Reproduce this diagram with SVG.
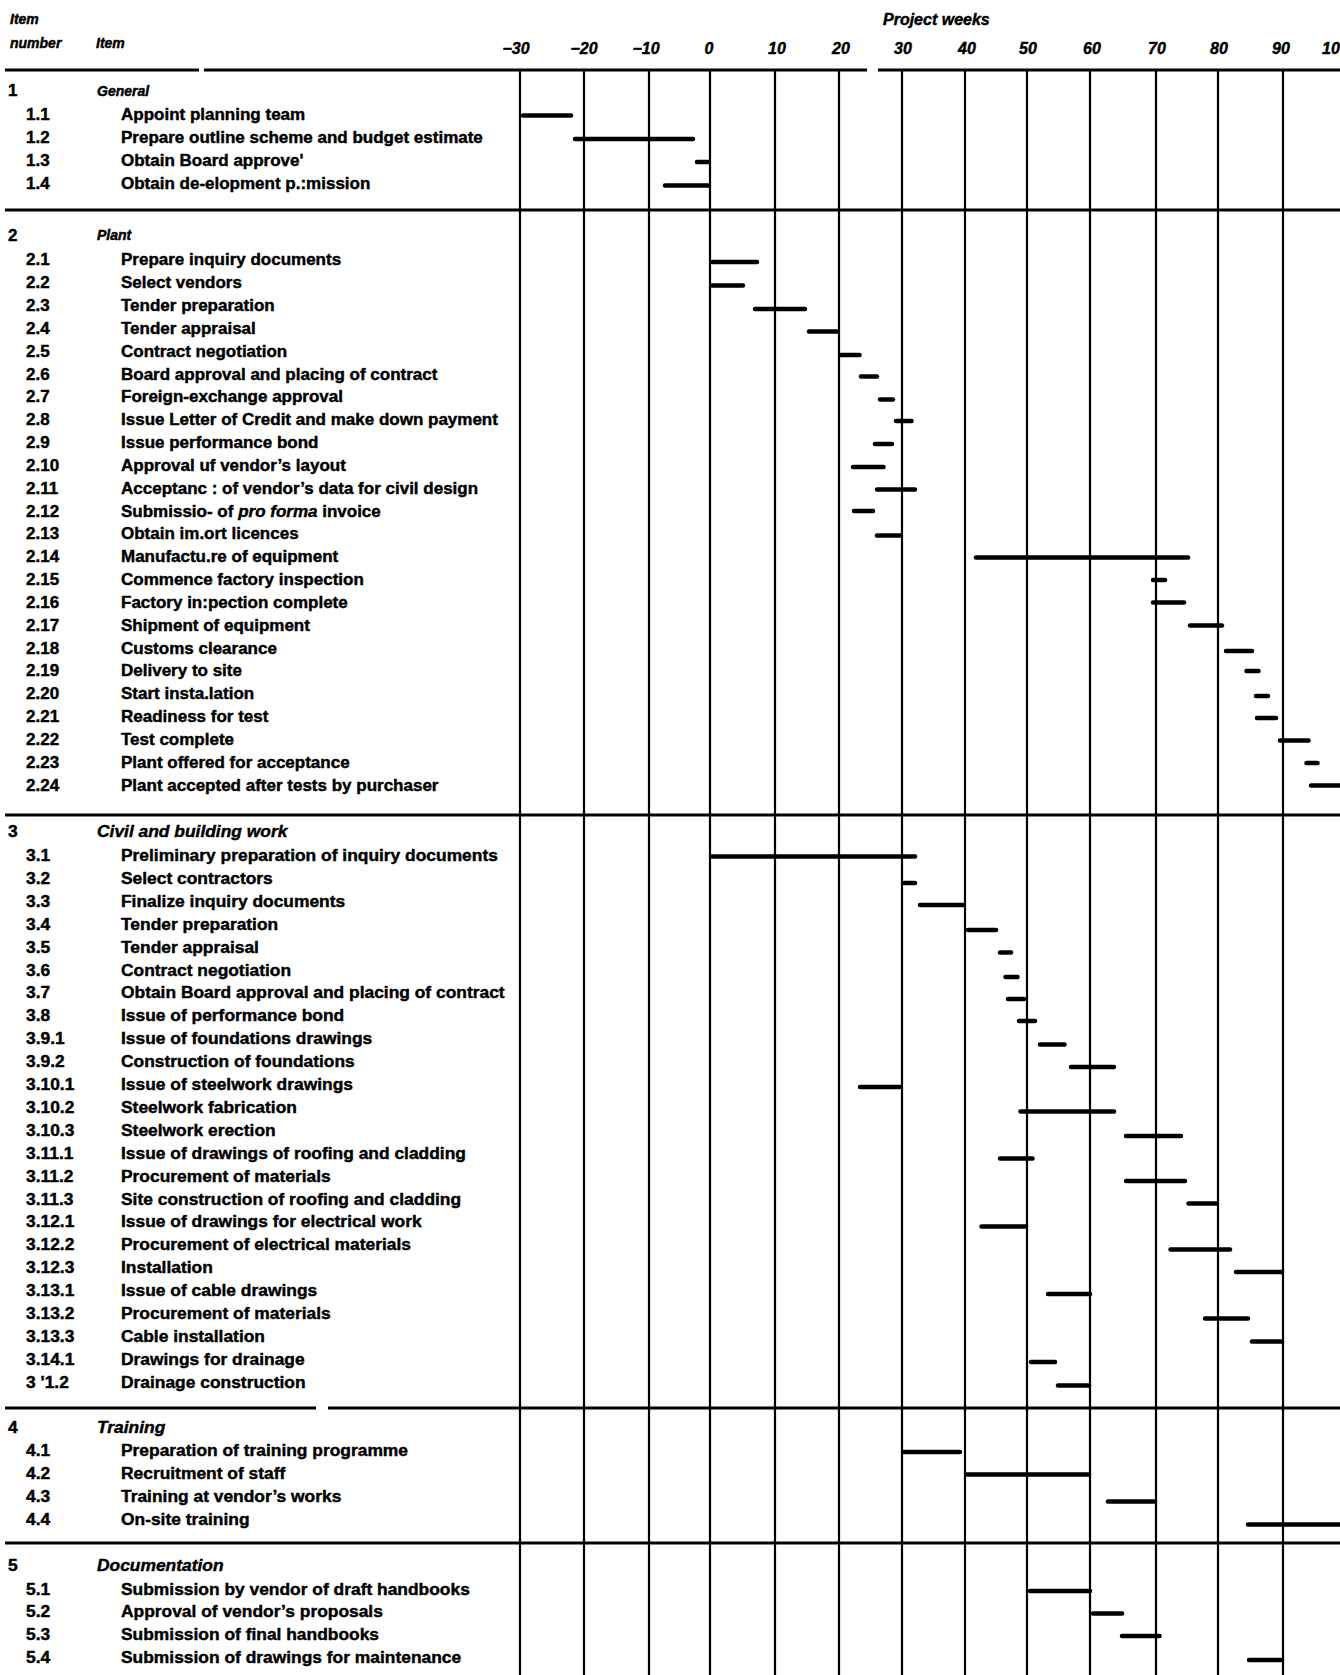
<svg xmlns="http://www.w3.org/2000/svg" width="1340" height="1675" viewBox="0 0 1340 1675">
<style>
text{fill:#000;stroke:#000;stroke-width:0.45;stroke-linejoin:round;font-family:"Liberation Sans",Arial,sans-serif;font-weight:700}
.n{font-size:17px}
.m{font-size:17.4px}
.h{font-size:17.4px;font-style:italic}
.hs{font-size:14px;font-style:italic}
.w{font-size:16px;font-style:italic;text-anchor:middle}
.bar{stroke:#000;stroke-width:4.5;stroke-linecap:round;fill:none}
.grid{stroke:#000;stroke-width:2.2;fill:none}
.rule{stroke:#000;stroke-width:3;fill:none}
</style>
<rect width="1340" height="1675" fill="#fff"/>
<g id="header">
<text class="hs" x="10" y="24">Item</text>
<text class="hs" x="10" y="48">number</text>
<text class="hs" x="96" y="48">Item</text>
<text class="hs" x="883" y="25" style="font-size:16px">Project weeks</text>
<text class="w" x="516" y="54">−30</text>
<text class="w" x="584" y="54">−20</text>
<text class="w" x="646" y="54">−10</text>
<text class="w" x="709" y="54">0</text>
<text class="w" x="777" y="54">10</text>
<text class="w" x="841" y="54">20</text>
<text class="w" x="903" y="54">30</text>
<text class="w" x="967" y="54">40</text>
<text class="w" x="1028" y="54">50</text>
<text class="w" x="1092" y="54">60</text>
<text class="w" x="1157" y="54">70</text>
<text class="w" x="1219" y="54">80</text>
<text class="w" x="1281" y="54">90</text>
<text class="w" x="1322" y="54" style="text-anchor:start">10</text>
</g>
<g id="grid">
<path class="grid" d="M520 69V1675M584 69V1675M649 69V1675M710 69V1675M775 69V1675M839 69V1675M902 69V1675M965 69V1675M1027 69V1675M1090 69V1675M1156 69V1675M1218 69V1675M1283 69V1675"/>
<path class="rule" d="M5 70H199M204 70H867M878 70H1340"/>
<path class="rule" d="M5 210H1340"/>
<path class="rule" d="M5 815H1340"/>
<path class="rule" d="M5 1408H316M328 1408H1340"/>
<path class="rule" d="M5 1543H1340"/>
</g>
<g id="section1">
<text class="n" x="8" y="96">1</text><text class="hs" x="97" y="95.5">General</text>
<g id="r1.1"><text class="n" x="26" y="119.5">1.1</text><text class="n" x="121" y="119.5">Appoint planning team</text><line class="bar" x1="523" y1="115.5" x2="571" y2="115.5"/></g>
<g id="r1.2"><text class="n" x="26" y="142.5">1.2</text><text class="n" x="121" y="142.5">Prepare outline scheme and budget estimate</text><line class="bar" x1="575" y1="139" x2="693" y2="139"/></g>
<g id="r1.3"><text class="n" x="26" y="165.5">1.3</text><text class="n" x="121" y="165.5">Obtain Board approve'</text><line class="bar" x1="697" y1="162" x2="709" y2="162"/></g>
<g id="r1.4"><text class="n" x="26" y="188.5">1.4</text><text class="n" x="121" y="188.5">Obtain de-elopment p.:mission</text><line class="bar" x1="665" y1="185.5" x2="709" y2="185.5"/></g>
</g>
<g id="section2">
<text class="n" x="8" y="240.5">2</text><text class="hs" x="97" y="240">Plant</text>
<g id="r2.1"><text class="n" x="26" y="265.3">2.1</text><text class="n" x="121" y="265.3">Prepare inquiry documents</text><line class="bar" x1="712" y1="262" x2="757" y2="262"/></g>
<g id="r2.2"><text class="n" x="26" y="288.1">2.2</text><text class="n" x="121" y="288.1">Select vendors</text><line class="bar" x1="712" y1="285.5" x2="743" y2="285.5"/></g>
<g id="r2.3"><text class="n" x="26" y="311">2.3</text><text class="n" x="121" y="311">Tender preparation</text><line class="bar" x1="755" y1="309" x2="805" y2="309"/></g>
<g id="r2.4"><text class="n" x="26" y="333.8">2.4</text><text class="n" x="121" y="333.8">Tender appraisal</text><line class="bar" x1="809" y1="331.5" x2="837" y2="331.5"/></g>
<g id="r2.5"><text class="n" x="26" y="356.7">2.5</text><text class="n" x="121" y="356.7">Contract negotiation</text><line class="bar" x1="840" y1="355" x2="859.5" y2="355"/></g>
<g id="r2.6"><text class="n" x="26" y="379.5">2.6</text><text class="n" x="121" y="379.5">Board approval and placing of contract</text><line class="bar" x1="861" y1="376.5" x2="877" y2="376.5"/></g>
<g id="r2.7"><text class="n" x="26" y="402.3">2.7</text><text class="n" x="121" y="402.3">Foreign-exchange approval</text><line class="bar" x1="880" y1="399.5" x2="893" y2="399.5"/></g>
<g id="r2.8"><text class="n" x="26" y="425.2">2.8</text><text class="n" x="121" y="425.2">Issue Letter of Credit and make down payment</text><line class="bar" x1="896" y1="421" x2="911.5" y2="421"/></g>
<g id="r2.9"><text class="n" x="26" y="448">2.9</text><text class="n" x="121" y="448">Issue performance bond</text><line class="bar" x1="875" y1="444" x2="892" y2="444"/></g>
<g id="r2.10"><text class="n" x="26" y="470.9">2.10</text><text class="n" x="121" y="470.9">Approval uf vendor’s layout</text><line class="bar" x1="853" y1="467" x2="883.5" y2="467"/></g>
<g id="r2.11"><text class="n" x="26" y="493.7">2.11</text><text class="n" x="121" y="493.7">Acceptanc : of vendor’s data for civil design</text><line class="bar" x1="877" y1="489.5" x2="915" y2="489.5"/></g>
<g id="r2.12"><text class="n" x="26" y="516.5">2.12</text><text class="n" x="121" y="516.5">Submissio- of <tspan font-style="italic">pro forma</tspan> invoice</text><line class="bar" x1="854" y1="511" x2="873" y2="511"/></g>
<g id="r2.13"><text class="n" x="26" y="539.4">2.13</text><text class="n" x="121" y="539.4">Obtain im.ort licences</text><line class="bar" x1="877" y1="535.5" x2="900" y2="535.5"/></g>
<g id="r2.14"><text class="n" x="26" y="562.2">2.14</text><text class="n" x="121" y="562.2">Manufactu.re of equipment</text><line class="bar" x1="976" y1="557.5" x2="1188" y2="557.5"/></g>
<g id="r2.15"><text class="n" x="26" y="585.1">2.15</text><text class="n" x="121" y="585.1">Commence factory inspection</text><line class="bar" x1="1153" y1="580" x2="1165" y2="580"/></g>
<g id="r2.16"><text class="n" x="26" y="607.9">2.16</text><text class="n" x="121" y="607.9">Factory in:pection complete</text><line class="bar" x1="1153" y1="602.5" x2="1184" y2="602.5"/></g>
<g id="r2.17"><text class="n" x="26" y="630.7">2.17</text><text class="n" x="121" y="630.7">Shipment of equipment</text><line class="bar" x1="1190" y1="625.5" x2="1222" y2="625.5"/></g>
<g id="r2.18"><text class="n" x="26" y="653.6">2.18</text><text class="n" x="121" y="653.6">Customs clearance</text><line class="bar" x1="1226" y1="651" x2="1252" y2="651"/></g>
<g id="r2.19"><text class="n" x="26" y="676.4">2.19</text><text class="n" x="121" y="676.4">Delivery to site</text><line class="bar" x1="1246.5" y1="671" x2="1258.5" y2="671"/></g>
<g id="r2.20"><text class="n" x="26" y="699.3">2.20</text><text class="n" x="121" y="699.3">Start insta.lation</text><line class="bar" x1="1256" y1="696" x2="1268" y2="696"/></g>
<g id="r2.21"><text class="n" x="26" y="722.1">2.21</text><text class="n" x="121" y="722.1">Readiness for test</text><line class="bar" x1="1257" y1="718" x2="1276" y2="718"/></g>
<g id="r2.22"><text class="n" x="26" y="744.9">2.22</text><text class="n" x="121" y="744.9">Test complete</text><line class="bar" x1="1280" y1="740.5" x2="1308.5" y2="740.5"/></g>
<g id="r2.23"><text class="n" x="26" y="767.8">2.23</text><text class="n" x="121" y="767.8">Plant offered for acceptance</text><line class="bar" x1="1306.5" y1="763" x2="1317.5" y2="763"/></g>
<g id="r2.24"><text class="n" x="26" y="790.6">2.24</text><text class="n" x="121" y="790.6">Plant accepted after tests by purchaser</text><line class="bar" x1="1311" y1="785.5" x2="1340" y2="785.5"/></g>
</g>
<g id="section3">
<text class="m" x="8" y="836.5">3</text><text class="h" x="97" y="836.5">Civil and building work</text>
<g id="r3.1"><text class="m" x="26" y="861">3.1</text><text class="m" x="121" y="861">Preliminary preparation of inquiry documents</text><line class="bar" x1="712" y1="856.5" x2="915" y2="856.5"/></g>
<g id="r3.2"><text class="m" x="26" y="883.9">3.2</text><text class="m" x="121" y="883.9">Select contractors</text><line class="bar" x1="904" y1="883" x2="915" y2="883"/></g>
<g id="r3.3"><text class="m" x="26" y="906.8">3.3</text><text class="m" x="121" y="906.8">Finalize inquiry documents</text><line class="bar" x1="920" y1="905" x2="963" y2="905"/></g>
<g id="r3.4"><text class="m" x="26" y="929.7">3.4</text><text class="m" x="121" y="929.7">Tender preparation</text><line class="bar" x1="968" y1="930" x2="996" y2="930"/></g>
<g id="r3.5"><text class="m" x="26" y="952.6">3.5</text><text class="m" x="121" y="952.6">Tender appraisal</text><line class="bar" x1="1000" y1="952.5" x2="1011" y2="952.5"/></g>
<g id="r3.6"><text class="m" x="26" y="975.5">3.6</text><text class="m" x="121" y="975.5">Contract negotiation</text><line class="bar" x1="1005.5" y1="977" x2="1017.5" y2="977"/></g>
<g id="r3.7"><text class="m" x="26" y="998.4">3.7</text><text class="m" x="121" y="998.4">Obtain Board approval and placing of contract</text><line class="bar" x1="1008" y1="999" x2="1024" y2="999"/></g>
<g id="r3.8"><text class="m" x="26" y="1021.3">3.8</text><text class="m" x="121" y="1021.3">Issue of performance bond</text><line class="bar" x1="1019" y1="1021" x2="1035" y2="1021"/></g>
<g id="r3.9.1"><text class="m" x="26" y="1044.2">3.9.1</text><text class="m" x="121" y="1044.2">Issue of foundations drawings</text><line class="bar" x1="1040" y1="1044.5" x2="1064.5" y2="1044.5"/></g>
<g id="r3.9.2"><text class="m" x="26" y="1067.1">3.9.2</text><text class="m" x="121" y="1067.1">Construction of foundations</text><line class="bar" x1="1071" y1="1067" x2="1114" y2="1067"/></g>
<g id="r3.10.1"><text class="m" x="26" y="1090">3.10.1</text><text class="m" x="121" y="1090">Issue of steelwork drawings</text><line class="bar" x1="860" y1="1087" x2="900" y2="1087"/></g>
<g id="r3.10.2"><text class="m" x="26" y="1112.9">3.10.2</text><text class="m" x="121" y="1112.9">Steelwork fabrication</text><line class="bar" x1="1020.5" y1="1111.5" x2="1114" y2="1111.5"/></g>
<g id="r3.10.3"><text class="m" x="26" y="1135.8">3.10.3</text><text class="m" x="121" y="1135.8">Steelwork erection</text><line class="bar" x1="1126" y1="1136" x2="1181" y2="1136"/></g>
<g id="r3.11.1"><text class="m" x="26" y="1158.7">3.11.1</text><text class="m" x="121" y="1158.7">Issue of drawings of roofing and cladding</text><line class="bar" x1="1000" y1="1158.5" x2="1032.5" y2="1158.5"/></g>
<g id="r3.11.2"><text class="m" x="26" y="1181.6">3.11.2</text><text class="m" x="121" y="1181.6">Procurement of materials</text><line class="bar" x1="1126" y1="1181" x2="1185" y2="1181"/></g>
<g id="r3.11.3"><text class="m" x="26" y="1204.5">3.11.3</text><text class="m" x="121" y="1204.5">Site construction of roofing and cladding</text><line class="bar" x1="1188.5" y1="1203.5" x2="1217" y2="1203.5"/></g>
<g id="r3.12.1"><text class="m" x="26" y="1227.4">3.12.1</text><text class="m" x="121" y="1227.4">Issue of drawings for electrical work</text><line class="bar" x1="981.5" y1="1226.5" x2="1026" y2="1226.5"/></g>
<g id="r3.12.2"><text class="m" x="26" y="1250.3">3.12.2</text><text class="m" x="121" y="1250.3">Procurement of electrical materials</text><line class="bar" x1="1170.5" y1="1249.5" x2="1230" y2="1249.5"/></g>
<g id="r3.12.3"><text class="m" x="26" y="1273.2">3.12.3</text><text class="m" x="121" y="1273.2">Installation</text><line class="bar" x1="1236" y1="1272" x2="1282" y2="1272"/></g>
<g id="r3.13.1"><text class="m" x="26" y="1296.1">3.13.1</text><text class="m" x="121" y="1296.1">Issue of cable drawings</text><line class="bar" x1="1048" y1="1294" x2="1090" y2="1294"/></g>
<g id="r3.13.2"><text class="m" x="26" y="1319">3.13.2</text><text class="m" x="121" y="1319">Procurement of materials</text><line class="bar" x1="1205" y1="1318.5" x2="1248" y2="1318.5"/></g>
<g id="r3.13.3"><text class="m" x="26" y="1341.9">3.13.3</text><text class="m" x="121" y="1341.9">Cable installation</text><line class="bar" x1="1252" y1="1341.5" x2="1282" y2="1341.5"/></g>
<g id="r3.14.1"><text class="m" x="26" y="1364.8">3.14.1</text><text class="m" x="121" y="1364.8">Drawings for drainage</text><line class="bar" x1="1031" y1="1362" x2="1055" y2="1362"/></g>
<g id="r3.14.2"><text class="m" x="26" y="1387.7">3 '1.2</text><text class="m" x="121" y="1387.7">Drainage construction</text><line class="bar" x1="1058" y1="1385.5" x2="1089" y2="1385.5"/></g>
</g>
<g id="section4">
<text class="m" x="8" y="1432.5">4</text><text class="h" x="97" y="1432.5">Training</text>
<g id="r4.1"><text class="m" x="26" y="1456">4.1</text><text class="m" x="121" y="1456">Preparation of training programme</text><line class="bar" x1="903" y1="1452" x2="960" y2="1452"/></g>
<g id="r4.2"><text class="m" x="26" y="1478.5">4.2</text><text class="m" x="121" y="1478.5">Recruitment of staff</text><line class="bar" x1="967" y1="1474.5" x2="1089" y2="1474.5"/></g>
<g id="r4.3"><text class="m" x="26" y="1501.5">4.3</text><text class="m" x="121" y="1501.5">Training at vendor’s works</text><line class="bar" x1="1108" y1="1501.5" x2="1155" y2="1501.5"/></g>
<g id="r4.4"><text class="m" x="26" y="1524.5">4.4</text><text class="m" x="121" y="1524.5">On-site training</text><line class="bar" x1="1248" y1="1524.5" x2="1340" y2="1524.5"/></g>
</g>
<g id="section5">
<text class="m" x="8" y="1571">5</text><text class="h" x="97" y="1571">Documentation</text>
<g id="r5.1"><text class="m" x="26" y="1594.5">5.1</text><text class="m" x="121" y="1594.5">Submission by vendor of draft handbooks</text><line class="bar" x1="1030" y1="1591" x2="1090" y2="1591"/></g>
<g id="r5.2"><text class="m" x="26" y="1617">5.2</text><text class="m" x="121" y="1617">Approval of vendor’s proposals</text><line class="bar" x1="1093" y1="1613.5" x2="1122" y2="1613.5"/></g>
<g id="r5.3"><text class="m" x="26" y="1639.5">5.3</text><text class="m" x="121" y="1639.5">Submission of final handbooks</text><line class="bar" x1="1122" y1="1636" x2="1159.5" y2="1636"/></g>
<g id="r5.4"><text class="m" x="26" y="1662.5">5.4</text><text class="m" x="121" y="1662.5">Submission of drawings for maintenance</text><line class="bar" x1="1249" y1="1660" x2="1281" y2="1660"/></g>
</g>
</svg>
